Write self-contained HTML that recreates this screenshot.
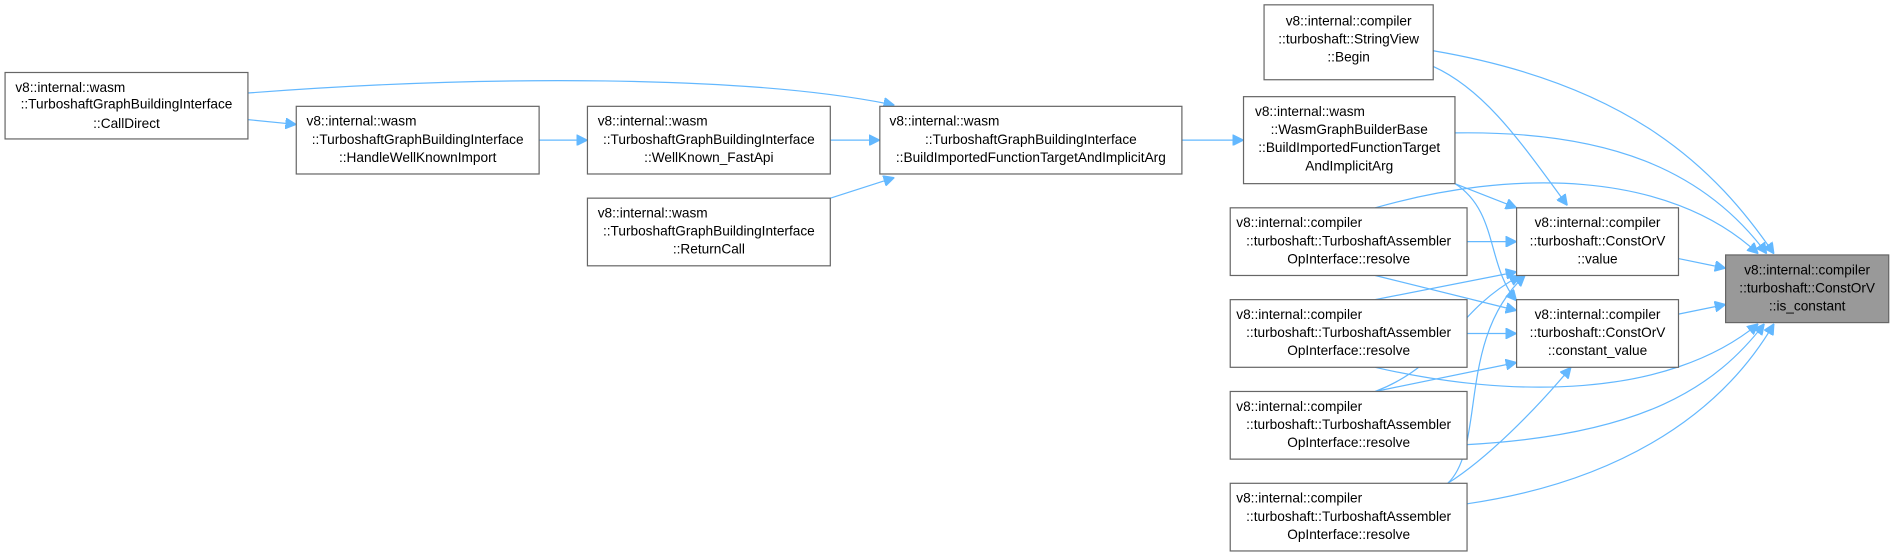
<!DOCTYPE html>
<html><head><meta charset="utf-8"><style>
html,body{margin:0;padding:0;background:#fff;width:1895px;height:557px;overflow:hidden}
svg{display:block}
text{font-family:"Liberation Sans",sans-serif;font-size:11.3px;fill:#000;text-anchor:middle}
rect{fill:#fff;stroke:#666;stroke-width:1}
path{fill:none;stroke:#63b8ff;stroke-width:1}
</style></head><body>
<svg width="1895" height="557" viewBox="0 0 1568 461" xmlns="http://www.w3.org/2000/svg">
<defs><marker id="a" viewBox="0 0 10 10" refX="10" refY="5" markerWidth="9" markerHeight="9" orient="auto" markerUnits="userSpaceOnUse"><path d="M0,0 L10,5 L0,10 z" style="fill:#63b8ff;stroke:#63b8ff"/></marker></defs>
<g marker-end="url(#a)">
<path d="M205,99 L245,103"/>
<path d="M205,77 C400,62 620,62 740,87"/>
<path d="M446,116 L486,116"/>
<path d="M687,116 L728,116"/>
<path d="M687,164 L740,147"/>
<path d="M978,116 L1029,116"/>
<path d="M1186,55 C1230,75 1260,120 1297,170"/>
<path d="M1186,42 C1350,70 1420,140 1468,210"/>
<path d="M1204,152 L1255,172"/>
<path d="M1204,152 C1240,175 1230,220 1255,249"/>
<path d="M1204,110 C1330,108 1410,140 1462,210"/>
<path d="M1214,200 L1255,200"/>
<path d="M1138,228 L1255,257"/>
<path d="M1138,172 C1250,140 1380,140 1455,210"/>
<path d="M1138,248 L1255,225"/>
<path d="M1214,276 L1255,276"/>
<path d="M1138,304 C1250,330 1380,330 1455,268"/>
<path d="M1138,324 C1200,300 1200,260 1258,228"/>
<path d="M1138,324 L1255,300"/>
<path d="M1214,368 C1360,360 1420,320 1460,268"/>
<path d="M1198,400 C1230,370 1205,280 1262,228"/>
<path d="M1198,400 C1230,380 1270,340 1300,304"/>
<path d="M1214,417 C1330,400 1420,350 1468,268"/>
<path d="M1389,214 L1428,222"/>
<path d="M1389,260 L1428,252"/>
</g>
<rect x="4" y="60" width="201" height="55"/>
<text x="104.5" y="76" style="text-anchor:start" transform="translate(-92,0)">v8::internal::wasm</text>
<text x="104.5" y="90">::TurboshaftGraphBuildingInterface</text>
<text x="104.5" y="106">::CallDirect</text>
<rect x="245" y="88" width="201" height="56"/>
<text x="345.5" y="104" style="text-anchor:start" transform="translate(-92,0)">v8::internal::wasm</text>
<text x="345.5" y="119">::TurboshaftGraphBuildingInterface</text>
<text x="345.5" y="134">::HandleWellKnownImport</text>
<rect x="486" y="88" width="201" height="56"/>
<text x="586.5" y="104" style="text-anchor:start" transform="translate(-92,0)">v8::internal::wasm</text>
<text x="586.5" y="119">::TurboshaftGraphBuildingInterface</text>
<text x="586.5" y="134">::WellKnown_FastApi</text>
<rect x="486" y="164" width="201" height="56"/>
<text x="586.5" y="180" style="text-anchor:start" transform="translate(-92,0)">v8::internal::wasm</text>
<text x="586.5" y="195">::TurboshaftGraphBuildingInterface</text>
<text x="586.5" y="210">::ReturnCall</text>
<rect x="728" y="88" width="250" height="56"/>
<text x="853" y="104" style="text-anchor:start" transform="translate(-117,0)">v8::internal::wasm</text>
<text x="853" y="119">::TurboshaftGraphBuildingInterface</text>
<text x="853" y="134">::BuildImportedFunctionTargetAndImplicitArg</text>
<rect x="1046" y="4" width="140" height="62"/>
<text x="1116" y="21">v8::internal::compiler</text>
<text x="1116" y="36">::turboshaft::StringView</text>
<text x="1116" y="51">::Begin</text>
<rect x="1029" y="80" width="175" height="72"/>
<text x="1116.5" y="96" style="text-anchor:start" transform="translate(-78,0)">v8::internal::wasm</text>
<text x="1116.5" y="111">::WasmGraphBuilderBase</text>
<text x="1116.5" y="126">::BuildImportedFunctionTarget</text>
<text x="1116.5" y="141">AndImplicitArg</text>
<rect x="1018" y="172" width="196" height="56"/>
<text x="1116" y="188" style="text-anchor:start" transform="translate(-93,0)">v8::internal::compiler</text>
<text x="1116" y="203">::turboshaft::TurboshaftAssembler</text>
<text x="1116" y="218">OpInterface::resolve</text>
<rect x="1018" y="248" width="196" height="56"/>
<text x="1116" y="264" style="text-anchor:start" transform="translate(-93,0)">v8::internal::compiler</text>
<text x="1116" y="279">::turboshaft::TurboshaftAssembler</text>
<text x="1116" y="294">OpInterface::resolve</text>
<rect x="1018" y="324" width="196" height="56"/>
<text x="1116" y="340" style="text-anchor:start" transform="translate(-93,0)">v8::internal::compiler</text>
<text x="1116" y="355">::turboshaft::TurboshaftAssembler</text>
<text x="1116" y="370">OpInterface::resolve</text>
<rect x="1018" y="400" width="196" height="56"/>
<text x="1116" y="416" style="text-anchor:start" transform="translate(-93,0)">v8::internal::compiler</text>
<text x="1116" y="431">::turboshaft::TurboshaftAssembler</text>
<text x="1116" y="446">OpInterface::resolve</text>
<rect x="1255" y="172" width="134" height="56"/>
<text x="1322" y="188">v8::internal::compiler</text>
<text x="1322" y="203">::turboshaft::ConstOrV</text>
<text x="1322" y="218">::value</text>
<rect x="1255" y="248" width="134" height="56"/>
<text x="1322" y="264">v8::internal::compiler</text>
<text x="1322" y="279">::turboshaft::ConstOrV</text>
<text x="1322" y="294">::constant_value</text>
<rect x="1428" y="211" width="135" height="56" style="fill:#999"/>
<text x="1495.5" y="227">v8::internal::compiler</text>
<text x="1495.5" y="242">::turboshaft::ConstOrV</text>
<text x="1495.5" y="257">::is_constant</text>
</svg>
</body></html>
